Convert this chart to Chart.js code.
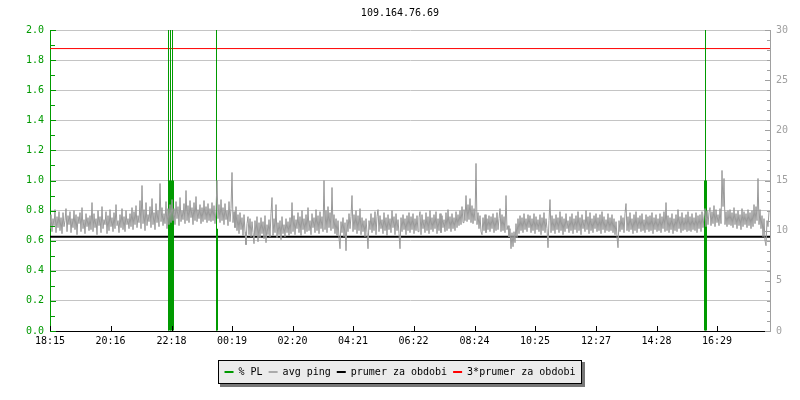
<!DOCTYPE html>
<html>
<head>
<meta charset="utf-8">
<script src="https://cdn.jsdelivr.net/npm/chart.js@4/dist/chart.umd.min.js"></script>
<style>
  html, body { margin: 0; padding: 0; background: #ffffff; }
  #wrap { width: 800px; height: 400px; }
</style>
</head>
<body>
<div id="wrap"><canvas id="c" width="800" height="400"></canvas></div>
<script>
// ---------------- DATA ----------------
const chartTitle = '109.164.76.69';
const seriesNames = ['% PL', 'avg ping', 'prumer za obdobi', '3*prumer za obdobi'];

// x axis: minutes since 18:15 (24 h window)
const periodMinutes = 1440;
const tickLabels = ['18:15', '20:16', '22:18', '00:19', '02:20', '04:21',
                    '06:22', '08:24', '10:25', '12:27', '14:28', '16:29'];

// avg ping [ms], one sample every 2 minutes starting at 18:15
const pingStepMinutes = 2;
const avgPing = [
  10.2, 11.6, 9.9, 11.2, 10.5, 12.1, 9.8, 11.4, 10.3, 11.9, 10.0, 11.3, 9.7, 11.8, 10.4, 11.0, 12.2, 9.9, 11.5, 10.6,
  11.9, 9.8, 11.2, 10.3, 12.0, 10.1, 11.6, 9.6, 11.4, 10.7, 11.8, 9.9, 12.3, 10.2, 11.1, 9.7, 11.7, 10.4, 11.3, 10.0,
  11.5, 10.1, 12.8, 9.9, 11.7, 10.3, 11.2, 9.6, 12.0, 10.5, 11.4, 9.8, 12.4, 10.2, 11.1, 10.6, 11.9, 9.7, 11.5, 10.0,
  12.1, 10.4, 11.3, 9.9, 11.8, 10.2, 12.6, 10.5, 11.0, 9.8, 11.6, 10.3, 12.2, 10.1, 11.4, 9.9, 12.0, 10.6, 11.2, 10.2,
  11.7, 10.4, 12.3, 10.1, 11.9, 10.6, 12.5, 10.3, 11.5, 10.8, 13.0, 10.2, 14.5, 10.7, 12.1, 10.0, 12.8, 10.5, 11.6, 10.9,
  12.4, 10.3, 13.2, 10.6, 11.8, 10.1, 12.7, 10.8, 12.0, 10.4, 14.7, 10.9, 12.3, 10.5, 11.7, 10.7, 12.9, 10.2, 12.2, 10.6,
  12.6, 10.8, 13.1, 11.0, 12.2, 10.6, 12.9, 11.2, 12.4, 10.5, 13.3, 10.9, 12.0, 11.1, 12.7, 10.7, 14.0, 11.0, 12.5, 10.8,
  13.0, 11.3, 12.3, 10.6, 12.8, 11.0, 13.4, 10.9, 12.1, 11.2, 12.6, 10.7, 12.3, 10.9, 13.0, 11.1, 12.4, 10.8, 12.7, 11.0,
  12.2, 10.9, 12.8, 11.0, 12.5, 10.7, 12.0, 15.0, 11.2, 12.6, 10.8, 13.1, 11.0, 12.3, 10.6, 12.7, 11.1, 12.0, 10.5, 12.9,
  10.9, 12.2, 15.8, 10.8, 11.9, 10.3, 12.4, 10.0, 11.6, 9.7, 11.8, 10.1, 11.3, 9.5, 11.6, 9.9, 8.6, 10.7, 11.4, 9.6,
  11.2, 9.4, 10.9, 9.8, 8.7, 11.0, 9.5, 11.4, 8.9, 10.8, 9.3, 11.3, 9.7, 10.9, 9.2, 11.5, 8.8, 10.6, 9.6, 11.1,
  9.4, 11.7, 13.3, 9.5, 11.2, 9.8, 12.6, 9.3, 10.8, 9.6, 11.0, 9.1, 11.4, 9.7, 10.6, 9.4, 11.2, 9.8, 10.9, 9.5,
  11.3, 9.7, 12.8, 9.9, 11.5, 9.6, 11.1, 10.2, 11.8, 9.8, 11.4, 9.5, 12.0, 10.1, 11.2, 9.7, 11.6, 9.9, 12.3, 10.0,
  11.0, 9.6, 11.7, 10.3, 11.3, 9.8, 12.1, 10.0, 11.5, 9.7, 11.9, 10.2, 11.4, 9.9, 15.0, 10.1, 12.0, 9.8, 12.4, 10.3,
  11.8, 10.0, 14.3, 10.2, 11.6, 9.7, 11.2, 9.5, 11.0, 9.3, 8.2, 10.9, 9.8, 11.3, 9.4, 10.8, 8.0, 11.1, 9.9, 11.7,
  10.2, 11.4, 13.5, 9.9, 11.6, 10.1, 12.0, 9.7, 11.5, 10.0, 12.2, 9.6, 11.3, 9.9, 11.0, 9.4, 11.2, 9.8, 8.2, 11.0,
  10.1, 11.7, 9.8, 11.3, 10.0, 11.9, 9.6, 11.4, 12.1, 9.9, 11.5, 10.2, 11.1, 9.7, 11.8, 10.0, 11.3, 9.5, 11.6, 10.1,
  11.2, 9.8, 12.0, 10.3, 11.4, 9.6, 11.7, 10.0, 11.1, 9.7, 8.2, 11.3, 9.9, 11.6, 10.1, 11.2, 9.6, 11.5, 10.0, 11.8,
  9.8, 11.4, 10.1, 11.7, 9.7, 11.2, 10.0, 11.5, 9.9, 11.3, 11.9, 9.6, 11.6, 10.2, 11.1, 9.8, 11.8, 10.0, 11.4, 9.7,
  12.0, 10.1, 11.3, 9.9, 11.6, 10.2, 11.9, 9.7, 11.2, 10.0, 11.7, 9.8, 11.5, 10.3, 11.1, 9.9, 11.8, 10.0, 12.1, 10.2,
  11.4, 9.9, 11.7, 10.2, 11.3, 10.0, 11.9, 10.3, 11.6, 10.5, 12.0, 10.6, 12.4, 10.8, 12.1, 11.0, 13.5, 10.9, 12.6, 11.1,
  13.2, 10.8, 12.5, 10.7, 12.2, 11.0, 16.7, 10.6, 11.8, 10.2, 11.5, 9.9, 9.6, 11.3, 10.0, 11.6, 9.8, 11.2, 10.1, 11.5,
  9.9, 11.4, 10.2, 11.7, 9.8, 11.3, 10.0, 11.8, 10.1, 11.2, 12.2, 9.9, 11.6, 10.0, 11.4, 9.8, 13.5, 10.1, 10.5, 9.4,
  10.2, 8.2, 9.8, 8.4, 9.9, 8.8, 10.7, 9.3, 11.2, 9.7, 11.5, 10.0, 11.3, 9.8, 11.7, 10.1, 11.2, 9.9, 11.6, 10.3,
  11.5, 9.8, 11.2, 10.0, 11.7, 9.7, 11.4, 10.1, 11.1, 9.9, 11.6, 9.6, 11.3, 10.0, 11.8, 9.8, 11.2, 10.2, 8.3, 11.0,
  13.1, 9.8, 11.5, 10.0, 11.2, 9.7, 11.6, 10.1, 11.3, 9.8, 11.9, 10.0, 11.4, 9.6, 11.2, 9.9, 11.7, 10.2, 11.0, 9.8,
  11.4, 10.0, 11.7, 9.7, 11.2, 10.1, 11.5, 9.8, 11.9, 10.0, 11.3, 9.6, 11.6, 10.2, 11.1, 9.9, 12.0, 10.1, 11.4, 9.7,
  11.8, 10.0, 11.2, 9.8, 11.5, 10.2, 11.7, 9.9, 11.3, 10.0, 11.6, 9.7, 11.9, 10.1, 11.4, 9.8, 11.1, 10.0, 11.7, 9.9,
  11.3, 10.0, 11.6, 9.8, 11.2, 9.6, 10.9, 9.4, 8.3, 11.0, 9.9, 11.5, 10.1, 11.3, 9.8, 11.7, 12.7, 10.0, 11.4, 9.9,
  11.8, 10.1, 11.2, 9.7, 11.6, 10.0, 11.9, 9.8, 11.3, 10.2, 11.5, 9.9, 11.7, 10.0, 11.1, 9.8, 11.6, 10.1, 11.4, 9.9,
  11.5, 10.0, 11.8, 9.7, 11.3, 10.1, 11.6, 9.9, 11.2, 10.0, 11.7, 9.8, 11.4, 10.2, 11.9, 9.9, 12.8, 10.0, 11.5, 9.8,
  11.3, 10.1, 11.7, 9.7, 11.2, 10.0, 11.6, 9.9, 12.1, 10.2, 11.4, 9.8, 11.8, 10.0, 11.3, 10.1, 11.6, 9.9, 11.9, 10.0,
  11.4, 9.9, 11.7, 10.1, 11.3, 10.0, 11.8, 9.8, 11.5, 10.2, 11.6, 9.9, 11.9, 10.3, 11.4, 12.2, 10.4, 12.0, 10.6, 11.8,
  12.3, 10.5, 11.9, 10.7, 12.5, 10.4, 12.1, 10.8, 11.6, 10.5, 12.2, 10.7, 16.0, 12.4, 15.2, 10.6, 11.9, 10.4, 12.0, 10.6,
  12.1, 10.5, 11.8, 10.3, 12.3, 10.6, 11.7, 10.2, 12.0, 10.5, 11.6, 10.1, 12.2, 10.4, 11.9, 10.6, 11.7, 10.3, 12.1, 10.5,
  11.8, 10.2, 12.0, 10.4, 12.6, 10.7, 12.4, 11.0, 15.2, 10.6, 12.1, 10.2, 11.5, 9.4, 11.2, 9.0, 8.5, 11.0, 10.4, 11.9
];

// period average ping [ms]
const periodAvg = 9.383;

// packet loss [%] (left axis), minutes since 18:15
const plBlockMinutes = [239, 245, 1311];
const plBlockValues  = [1.0, 1.0, 1.0];
const plMidMinutes   = [334];
const plMidValues    = [0.68];
const plSpikeMinutes = [237, 241, 245, 333, 1311];
const plSpikeValues  = [10, 10, 10, 10, 10];

// ---------------- STYLE ----------------
const GREEN = '#009a00';
const GREY_PING = '#999999';
const GRID = '#c4c4c4';
const RIGHT_AXIS = '#a0a0a0';
const FONT = 'DejaVu Sans Mono';

Chart.defaults.font.family = FONT;
Chart.defaults.font.size = 10;
Chart.defaults.color = '#000';

function parseTickMinutes(lbl) {
  const [h, m] = lbl.split(':').map(Number);
  let t = h * 60 + m - (18 * 60 + 15);
  if (t < 0) t += 1440;
  return t;
}
const tickMinutes = tickLabels.map(parseTickMinutes);

const pingData = avgPing.map((v, i) => ({ x: i * pingStepMinutes, y: v }));
const zip = (xs, ys) => xs.map((x, i) => ({ x: x, y: ys[i] }));

const legendBoxPlugin = {
  id: 'legendBox',
  beforeDraw(chart) {
    const lg = chart.legend;
    if (!lg || !lg.legendHitBoxes || !lg.legendHitBoxes.length) return;
    const hb = lg.legendHitBoxes;
    const first = hb[0], last = hb[hb.length - 1];
    const left = Math.round(first.left - 7);
    const right = Math.round(last.left + last.width + 7);
    const cy = first.top + first.height / 2;
    const top = Math.round(cy - 12);
    const h = 24;
    const ctx = chart.ctx;
    ctx.save();
    ctx.fillStyle = '#777777';
    ctx.fillRect(left + 2, top + 2, right - left + 1, h + 1);
    ctx.fillStyle = '#ebebeb';
    ctx.fillRect(left, top, right - left, h);
    ctx.strokeStyle = '#000';
    ctx.lineWidth = 1;
    ctx.strokeRect(left + 0.5, top + 0.5, right - left - 1, h - 1);
    ctx.restore();
  }
};

const inwardTicksPlugin = {
  id: 'inwardTicks',
  afterDatasetsDraw(chart) {
    const ctx = chart.ctx;
    const a = chart.chartArea;
    ctx.save();
    ctx.lineWidth = 1;
    const y = chart.scales.y;
    ctx.strokeStyle = GREEN;
    y.ticks.forEach(t => {
      const p = Math.round(y.getPixelForValue(t.value)) + 0.5;
      const major = Math.round(t.value * 10) % 2 === 0;
      ctx.beginPath();
      ctx.moveTo(a.left, p);
      ctx.lineTo(a.left + (major ? 6 : 5), p);
      ctx.stroke();
    });
    const y2 = chart.scales.y2;
    ctx.strokeStyle = RIGHT_AXIS;
    y2.ticks.forEach(t => {
      const p = Math.round(y2.getPixelForValue(t.value)) + 0.5;
      const major = Math.round(t.value) % 5 === 0;
      ctx.beginPath();
      ctx.moveTo(a.right + 1, p);
      ctx.lineTo(a.right + 1 - (major ? 6 : 4), p);
      ctx.stroke();
    });
    const x = chart.scales.x;
    ctx.strokeStyle = '#000';
    x.ticks.forEach(t => {
      const p = Math.round(x.getPixelForValue(t.value)) + 0.5;
      ctx.beginPath();
      ctx.moveTo(p, a.bottom);
      ctx.lineTo(p, a.bottom - 5);
      ctx.stroke();
    });
    ctx.restore();
  }
};

const cfg = {
  type: 'line',
  data: {
    datasets: [
      { type: 'bar', label: seriesNames[0], data: zip(plBlockMinutes, plBlockValues),
        backgroundColor: GREEN, borderWidth: 0, barThickness: 3, grouped: false,
        inflateAmount: 0, xAxisID: 'x', yAxisID: 'y', order: 2, showInLegend: true, legendColor: GREEN },
      { type: 'line', label: seriesNames[1], data: pingData,
        borderColor: GREY_PING, borderWidth: 1, pointRadius: 0, tension: 0, fill: false,
        xAxisID: 'x', yAxisID: 'y2', order: 1, showInLegend: true, legendColor: '#aaaaaa' },
      { type: 'line', label: seriesNames[2], data: [{ x: 0, y: periodAvg }, { x: periodMinutes, y: periodAvg }],
        borderColor: '#000000', borderWidth: 2, pointRadius: 0, fill: false,
        xAxisID: 'x', yAxisID: 'y2', order: 3, showInLegend: true, legendColor: '#000000' },
      { type: 'line', label: seriesNames[3], data: [{ x: 0, y: 3 * periodAvg }, { x: periodMinutes, y: 3 * periodAvg }],
        borderColor: '#ff0000', borderWidth: 1, pointRadius: 0, fill: false,
        xAxisID: 'x', yAxisID: 'y2', order: 4, showInLegend: true, legendColor: '#ff0000' },
      { type: 'bar', label: 'pl-spike', data: zip(plSpikeMinutes, plSpikeValues),
        backgroundColor: GREEN, borderWidth: 0, barThickness: 1, grouped: false,
        inflateAmount: 0, xAxisID: 'x', yAxisID: 'y', order: 2, showInLegend: false },
      { type: 'bar', label: 'pl-mid', data: zip(plMidMinutes, plMidValues),
        backgroundColor: GREEN, borderWidth: 0, barThickness: 2, grouped: false,
        inflateAmount: 0, xAxisID: 'x', yAxisID: 'y', order: 2, showInLegend: false }
    ]
  },
  options: {
    responsive: false,
    animation: false,
    devicePixelRatio: 1,
    layout: { padding: { left: 0, right: 0, top: 0, bottom: 13 } },
    plugins: {
      title: {
        display: true, text: chartTitle, color: '#000',
        font: { family: FONT, size: 10, weight: 'normal' },
        padding: { top: 7, bottom: 11 }
      },
      legend: {
        display: true, position: 'bottom',
        labels: {
          boxWidth: 9, boxHeight: 2, padding: 6, color: '#000',
          font: { family: FONT, size: 10 },
          generateLabels: (chart) => chart.data.datasets
            .map((ds, i) => ({ ds, i }))
            .filter(o => o.ds.showInLegend)
            .map(o => ({
              text: o.ds.label, fillStyle: o.ds.legendColor, strokeStyle: o.ds.legendColor,
              lineWidth: 0, hidden: false, datasetIndex: o.i, fontColor: '#000'
            }))
        }
      },
      tooltip: { enabled: false }
    },
    scales: {
      x: {
        type: 'linear', position: 'bottom', min: 0, max: periodMinutes,
        offset: false,
        afterBuildTicks: (s) => { s.ticks = tickMinutes.map(v => ({ value: v })); },
        afterFit: (s) => { s.height = 30; },
        ticks: {
          autoSkip: false, maxRotation: 0, padding: 4, color: '#000',
          font: { family: FONT, size: 10 },
          callback: (v, i) => tickLabels[i]
        },
        grid: { display: true, drawOnChartArea: false, drawTicks: false, offset: false },
        border: { display: true, color: '#000', width: 1 }
      },
      y: {
        type: 'linear', position: 'left', min: 0, max: 2,
        afterFit: (s) => { s.width = 50; },
        ticks: {
          stepSize: 0.1, autoSkip: false, padding: 6, color: GREEN,
          font: { family: FONT, size: 10 },
          callback: (v) => (Math.round(v * 10) % 2 === 0 ? Number(v).toFixed(1) : '')
        },
        grid: {
          drawTicks: false,
          color: (c) => {
            const v = c.tick ? c.tick.value : 0;
            if (Math.round(v * 10) === 0) return 'rgba(0,0,0,0)';
            return Math.round(v * 10) % 2 === 0 ? GRID : 'rgba(0,0,0,0)';
          }
        },
        border: { display: true, color: GREEN, width: 1 }
      },
      y2: {
        type: 'linear', position: 'right', min: 0, max: 30,
        afterFit: (s) => { s.width = 30; },
        ticks: {
          stepSize: 1, autoSkip: false, padding: 6, color: RIGHT_AXIS,
          font: { family: FONT, size: 10 },
          callback: (v) => (Math.round(v) % 5 === 0 ? String(v) : '')
        },
        grid: { display: true, drawOnChartArea: false, drawTicks: false },
        border: { display: true, color: RIGHT_AXIS, width: 1 }
      }
    }
  },
  plugins: [legendBoxPlugin, inwardTicksPlugin]
};

new Chart(document.getElementById('c'), cfg);
</script>
</body>
</html>
